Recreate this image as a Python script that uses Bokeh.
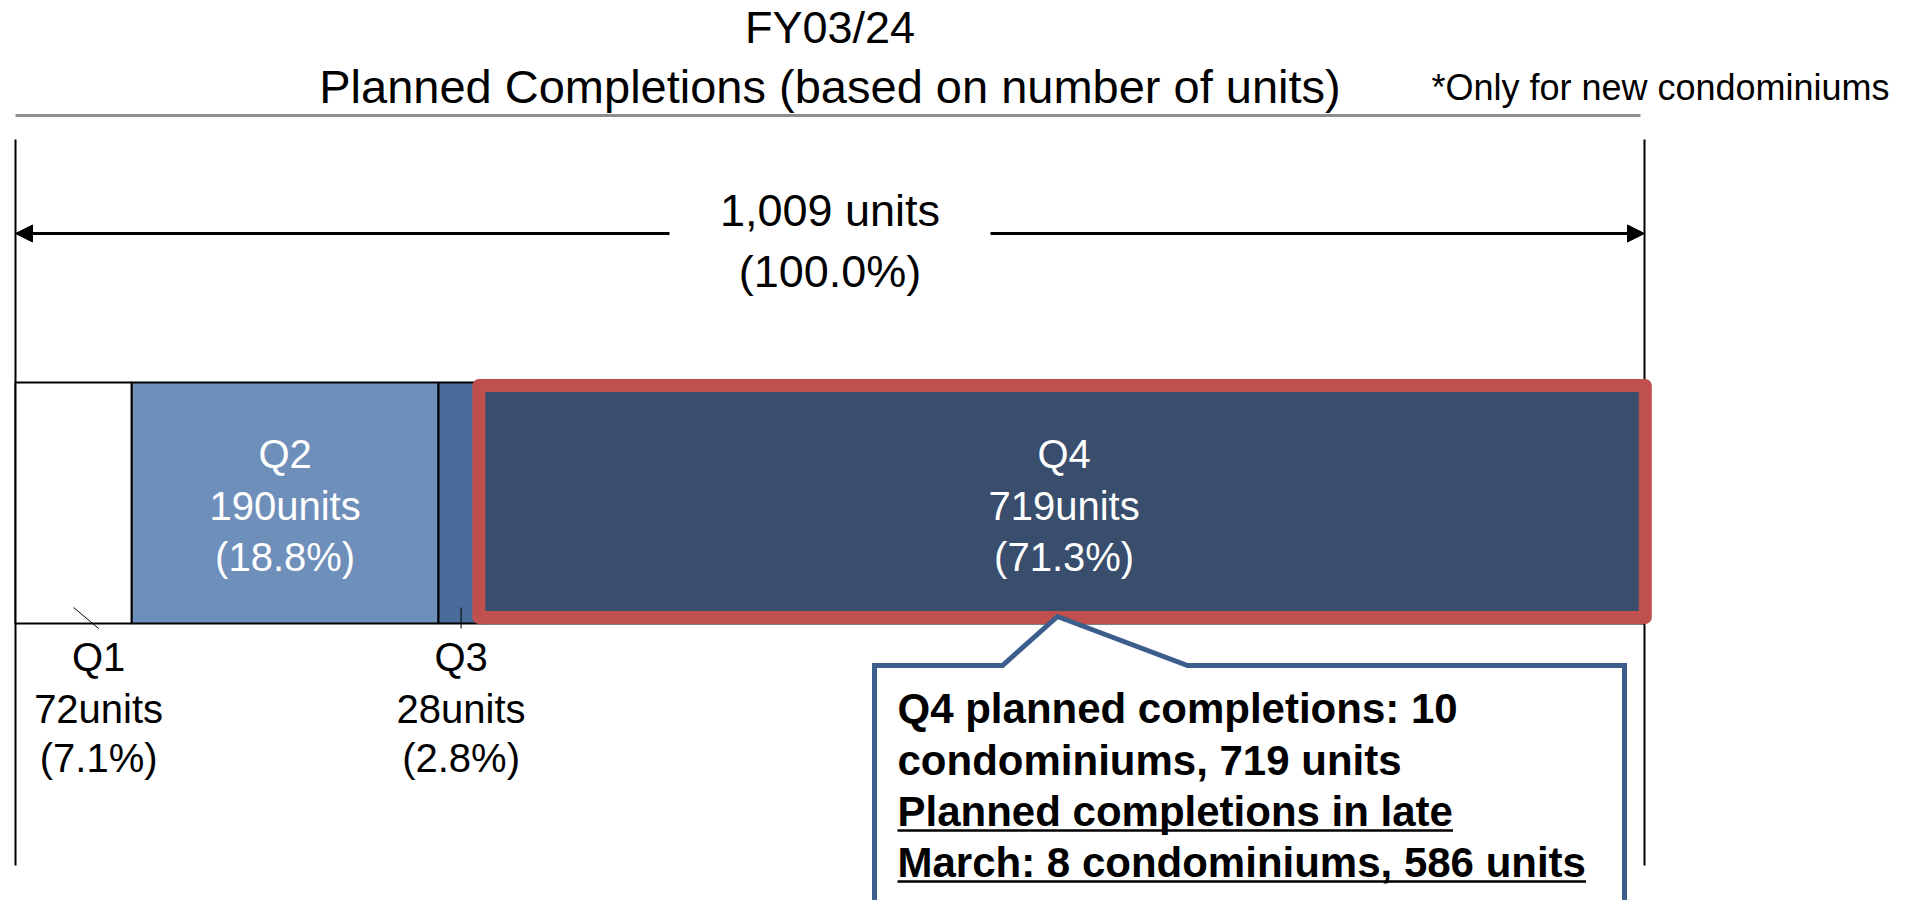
from bokeh.plotting import figure
from bokeh.models import Range1d, Arrow, NormalHead
from bokeh.core.properties import value
from bokeh.embed import file_html
from bokeh.resources import INLINE

# ---------------- data ----------------
quarters = ["Q1", "Q2", "Q3", "Q4"]
units = [72, 190, 28, 719]
shares = ["7.1%", "18.8%", "2.8%", "71.3%"]
total_units = 1009
total_share = "100.0%"
colors = ["#FFFFFF", "#6F8FBB", "#4B6B9A", "#394D6D"]
title_lines = ["FY03/24", "Planned Completions (based on number of units)"]
note_text = "*Only for new condominiums"
callout_lines = [
    "Q4 planned completions: 10",
    "condominiums, 719 units",
    "Planned completions in late",
    "March: 8 condominiums, 586 units",
]
callout_underlined = [False, False, True, True]

# ---------------- layout ----------------
W, H = 1924, 900
PX_L, PX_R = 15, 1644          # page px of 0 units and of the total
k = (PX_R - PX_L) / total_units
x0 = -PX_L / k
x1 = x0 + W / k

FONT = "Liberation Sans"

p = figure(width=W, height=H, x_range=Range1d(x0, x1), y_range=Range1d(H, 0),
           output_backend="svg", toolbar_location=None, min_border=0,
           x_axis_location=None, y_axis_location=None)
p.extra_x_ranges = {"px": Range1d(0, W)}
p.grid.visible = False
p.outline_line_color = None
p.background_fill_color = "white"

starts, ends = [], []
acc = 0
for u in units:
    starts.append(acc)
    acc += u
    ends.append(acc)

BAR_TOP, BAR_BOT = 382, 623

# title + rule
p.text(x=[total_units / 2], y=[27], text=[title_lines[0]],
       text_font=value(FONT), text_font_size=value("45px"), text_color="black",
       text_align="center", text_baseline="middle")
p.text(x=[total_units / 2], y=[86], text=[title_lines[1]],
       text_font=value(FONT), text_font_size=value("47px"), text_color="black",
       text_align="center", text_baseline="middle")
p.text(x=[1660], y=[87], text=[note_text], x_range_name="px",
       text_font=value(FONT), text_font_size=value("36px"), text_color="black",
       text_align="center", text_baseline="middle")
p.segment(x0=[15], y0=[115], x1=[1640], y1=[115], x_range_name="px",
          line_color="#8E8E8E", line_width=3)

# vertical boundary lines
p.segment(x0=[0, total_units], y0=[139, 139], x1=[0, total_units], y1=[865, 865],
          line_color="black", line_width=2)

# total dimension arrows
gap_half = 99.4
mid = total_units / 2
for xs, xe in [(mid - gap_half, 0), (mid + gap_half, total_units)]:
    p.add_layout(Arrow(end=NormalHead(size=17, fill_color="black", line_color="black", line_width=1),
                       x_start=xs, y_start=233, x_end=xe, y_end=233,
                       line_color="black", line_width=3))
p.text(x=[mid, mid], y=[210, 271],
       text=[f"{total_units:,} units", f"({total_share})"],
       text_font=value(FONT), text_font_size=value("45px"), text_color="black",
       text_align="center", text_baseline="middle")

# stacked bar
p.quad(left=starts, right=ends, top=[BAR_TOP] * 4, bottom=[BAR_BOT] * 4,
       fill_color=colors, line_color="black", line_width=2)

# Q4 highlight
p.quad(left=[starts[3] - 3], right=[ends[3] + 0.5], top=[385], bottom=[617],
       fill_color=None, line_color="#C0504D", line_width=13, line_join="round")

# labels
inside_mid = [453, 505, 556]
below_mid = [656, 708, 757]
below_dx = {"Q1": 25, "Q3": 0}
for q, u, s, a, b in zip(quarters, units, shares, starts, ends):
    cx = (a + b) / 2
    lines = [q, f"{u}units", f"({s})"]
    if u / total_units > 0.1:
        p.text(x=[cx] * 3, y=inside_mid, text=lines,
               text_font=value(FONT), text_font_size=value("40px"), text_color="white",
               text_align="center", text_baseline="middle")
    else:
        lx = cx + below_dx.get(q, 0) / k
        p.segment(x0=[cx], y0=[607], x1=[lx], y1=[628], line_color="black", line_width=1)
        p.text(x=[lx] * 3, y=below_mid, text=lines,
               text_font=value(FONT), text_font_size=value("40px"), text_color="black",
               text_align="center", text_baseline="middle")

# callout box
p.patch(x=[874, 1002, 1057, 1187, 1624, 1624, 874],
        y=[665, 665, 616, 665, 665, 915, 915], x_range_name="px",
        fill_color="white", line_color="#3B5E8C", line_width=5, line_join="miter")

BOLD_W = {' ': 278, 'P': 667, 'l': 278, 'a': 556, 'n': 611, 'e': 556, 'd': 611, 'c': 556,
          'o': 611, 'm': 889, 'p': 611, 't': 333, 'i': 278, 's': 556, 'M': 833, 'r': 389,
          'h': 611, ':': 333, ',': 278, 'u': 611, 'Q': 778}
CF = 42
cm = [708, 760, 811, 862]
p.text(x=[897] * 4, y=cm, text=callout_lines, x_range_name="px",
       text_font=value(FONT), text_font_size=value(f"{CF}px"), text_font_style="bold",
       text_color="black", text_align="left", text_baseline="middle")
for line, ul, my in zip(callout_lines, callout_underlined, cm):
    if ul:
        w = sum(BOLD_W.get(ch, 556) for ch in line) / 1000 * CF
        p.segment(x0=[897], y0=[my + 19], x1=[897 + w], y1=[my + 19], x_range_name="px",
                  line_color="black", line_width=2.5)

open("out.html", "w").write(file_html(p, INLINE))
